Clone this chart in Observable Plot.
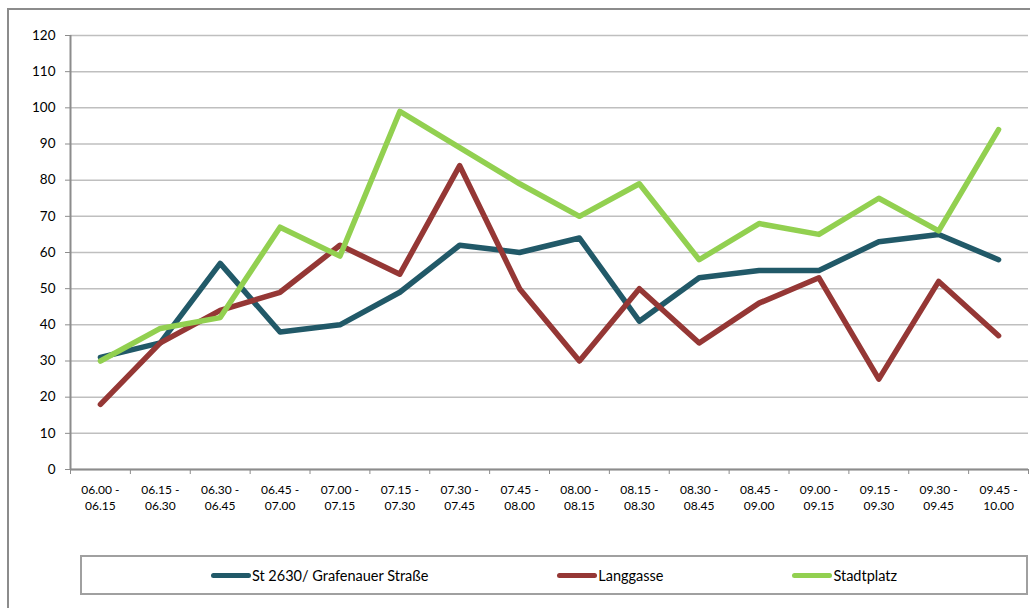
<!DOCTYPE html>
<html>
<head>
<meta charset="utf-8">
<script src="https://cdn.jsdelivr.net/npm/d3@7"></script>
<script src="https://cdn.jsdelivr.net/npm/@observablehq/plot@0.6"></script>
<style>
  html, body { margin: 0; padding: 0; background: #fff; overflow: hidden; }
  body { width: 1030px; height: 608px; position: relative; font-family: Lato, "Open Sans", sans-serif; }
  #clip { position: absolute; left: 0; top: 0; width: 1030px; height: 608px; overflow: hidden; }
  #frame { position: absolute; left: 7px; top: 8px; width: 1040px; height: 620px; border-left: 2px solid #8c8c8c; border-top: 2px solid #8c8c8c; box-sizing: border-box; }
  #chart { position: absolute; left: 0; top: 0; }
  #legend { position: absolute; left: 80px; top: 555px; width: 948px; height: 40px; border: 2px solid #a0a0a0; box-sizing: border-box;
            display: flex; justify-content: space-evenly; align-items: center; font-size: 14.5px; color: #000; }
  .item { display: flex; align-items: center; }
  .sw { width: 40px; height: 5px; border-radius: 3px; margin-right: 1px; }
</style>
</head>
<body>
<div id="clip">
<div id="frame"></div>
<div id="chart"></div>
<div id="legend"></div>
</div>
<script>
const categories = ["06.00 - 06.15","06.15 - 06.30","06.30 - 06.45","06.45 - 07.00","07.00 - 07.15","07.15 - 07.30","07.30 - 07.45","07.45 - 08.00","08.00 - 08.15","08.15 - 08.30","08.30 - 08.45","08.45 - 09.00","09.00 - 09.15","09.15 - 09.30","09.30 - 09.45","09.45 - 10.00"];
const seriesNames = ["St 2630/ Grafenauer Straße", "Langgasse", "Stadtplatz"];
const seriesColors = ["#215968", "#953735", "#92d050"];
const st2630 = [31, 35, 57, 38, 40, 49, 62, 60, 64, 41, 53, 55, 55, 63, 65, 58];
const langgasse = [18, 35, 44, 49, 62, 54, 84, 50, 30, 50, 35, 46, 53, 25, 52, 37];
const stadtplatz = [30, 39, 42, 67, 59, 99, 89, 79, 70, 79, 58, 68, 65, 75, 66, 94];
const yTicks = [0, 10, 20, 30, 40, 50, 60, 70, 80, 90, 100, 110, 120];

const seriesValues = [st2630, langgasse, stadtplatz];
const data = [];
seriesNames.forEach((name, s) => {
  seriesValues[s].forEach((v, i) => data.push({series: name, idx: i + 0.5, value: v}));
});

const font = "Lato, 'Open Sans', sans-serif";
const chart = Plot.plot({
  width: 1030,
  height: 520,
  marginLeft: 70,
  marginRight: 2,
  marginTop: 35,
  marginBottom: 51,
  style: { fontFamily: font, background: "transparent" },
  x: { type: "linear", domain: [0, categories.length], axis: null, label: null },
  y: { domain: [0, 120], axis: null, label: null },
  color: { domain: seriesNames, range: seriesColors },
  marks: [
    Plot.gridY(yTicks, { stroke: "#bfbfbf", strokeOpacity: 1, strokeWidth: 1.5 }),
    Plot.axisY(yTicks, { label: null, tickSize: 5, tickPadding: 10, stroke: "#8c8c8c", fill: "#000", fontSize: 13.5, tickFormat: d => String(d) }),
    Plot.axisX(d3.range(0, categories.length + 1), { label: null, tickSize: 5, stroke: "#8c8c8c", strokeWidth: 1, tickFormat: () => "" }),
    Plot.axisX(d3.range(categories.length).map(i => i + 0.5), {
      label: null, tickSize: 0, tickPadding: 13, fontSize: 12, lineHeight: 1.35, fill: "#000",
      tickFormat: d => categories[Math.floor(d)].replace(" - ", " -\n")
    }),
    Plot.ruleX([0], { stroke: "#8c8c8c", strokeWidth: 2 }),
    Plot.ruleY([0], { stroke: "#8c8c8c", strokeWidth: 2 }),
    Plot.line(data, { x: "idx", y: "value", z: "series", stroke: "series", strokeWidth: 5.5, strokeLinejoin: "round", strokeLinecap: "round" })
  ]
});
document.getElementById("chart").appendChild(chart);

const legend = document.getElementById("legend");
seriesNames.forEach((name, s) => {
  const item = document.createElement("div");
  item.className = "item";
  const sw = document.createElement("span");
  sw.className = "sw";
  sw.style.background = seriesColors[s];
  const t = document.createElement("span");
  t.textContent = name;
  item.appendChild(sw);
  item.appendChild(t);
  legend.appendChild(item);
});
</script>
</body>
</html>
